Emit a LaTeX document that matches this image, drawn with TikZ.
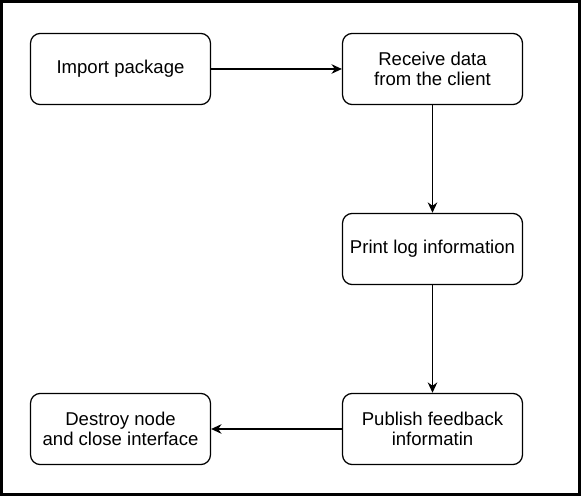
\documentclass[tikz,border=0pt]{standalone}
\usepackage{fontspec}
\setmainfont{Liberation Sans}
\usetikzlibrary{arrows.meta}

\begin{document}
\begin{tikzpicture}[
  stepbox/.style={draw,rounded corners=7pt,line width=0.9pt,minimum width=4.5cm,
                  minimum height=1.78cm,align=center,
                  font=\fontsize{13.2}{14.6}\selectfont},
  flow/.style={-{Stealth[length=2.6mm,width=2.4mm]},line width=0.8pt}]
\useasboundingbox (0,0) rectangle (14.575,-12.425);
%% frame
\draw[line width=2.2pt] (0.04,-0.04) rectangle (14.48,-12.37);

%% steps
\node[stepbox] (import)  at (3.0125,-1.725)  {Import package};
\node[stepbox] (receive) at (10.8125,-1.725) {Receive data\\from the client};
\node[stepbox] (printlog) at (10.8125,-6.225) {Print log information};
\node[stepbox] (publish) at (10.8125,-10.725) {Publish feedback\\informatin};
\node[stepbox] (destroy) at (3.0125,-10.725) {Destroy node\\and close interface};

%% flow
\draw[flow] (import) -- (receive);
\draw[flow] (receive) -- (printlog);
\draw[flow] (printlog) -- (publish);
\draw[flow] (publish) -- (destroy);
\end{tikzpicture}
\end{document}
